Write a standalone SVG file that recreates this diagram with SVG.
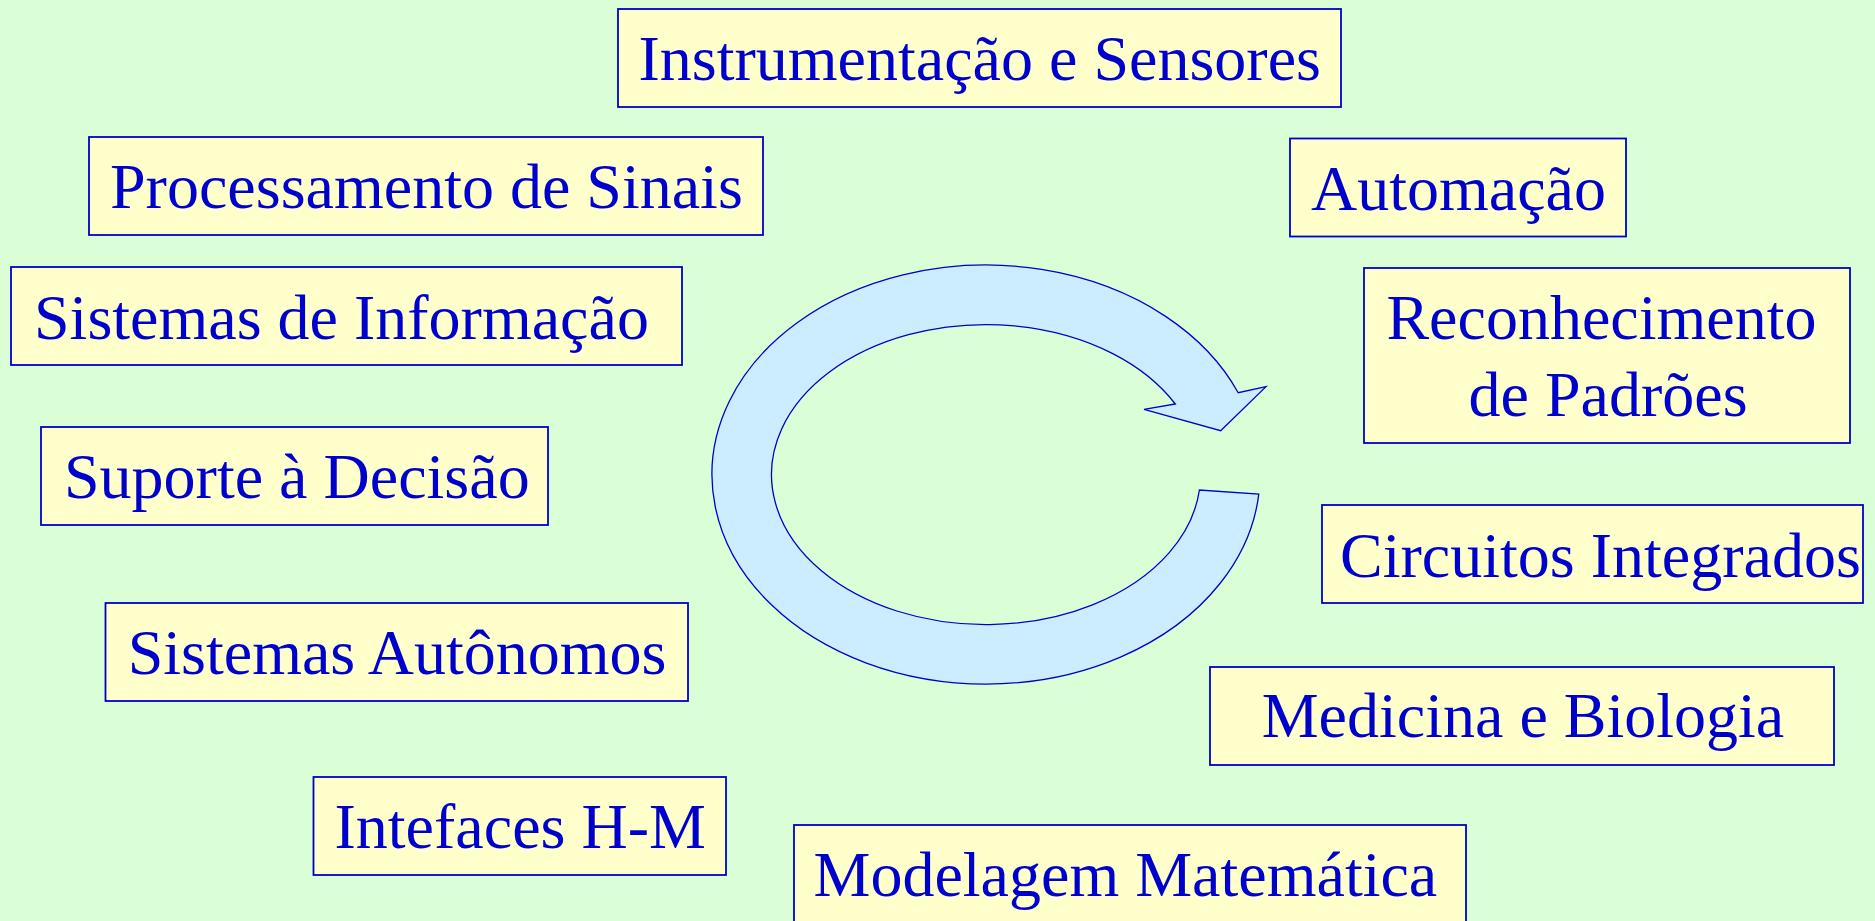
<svg xmlns="http://www.w3.org/2000/svg" width="1875" height="921" viewBox="0 0 1875 921">
<style>
.box{fill:#FFFFCC;stroke:#0000CC;stroke-width:1.8}
.t{font-family:"Liberation Serif","Times New Roman",serif;font-size:64px;fill:#0000CC}
.arrow{fill:#CCECFF;stroke:#0000CC;stroke-width:1.3;stroke-linejoin:miter}
</style>
<rect x="0" y="0" width="1875" height="921" fill="#DAFFD6"/>
<g id="connectors">
<path class="arrow" d="M 1258.8 494 A 274 209.5 0 1 1 1238.2 392.7 L 1266 386.7 L 1220.7 430.7 L 1144 409.3 L 1175.3 404 A 214.5 150 0 1 0 1199.4 490 Z"/>
</g>
<g id="n-instrumentacao"><rect class="box" x="618" y="9" width="723" height="98"/><text class="t" x="638.5" y="80">Instrumentação e Sensores</text></g>
<g id="n-processamento"><rect class="box" x="89" y="137" width="674" height="98"/><text class="t" x="110" y="208">Processamento de Sinais</text></g>
<g id="n-automacao"><rect class="box" x="1290" y="138.5" width="336" height="98"/><text class="t" x="1311" y="210">Automação</text></g>
<g id="n-sistemas-informacao"><rect class="box" x="11" y="267" width="671" height="98"/><text class="t" x="34" y="339">Sistemas de Informação</text></g>
<g id="n-reconhecimento"><rect class="box" x="1364" y="268" width="486" height="175"/><text class="t" x="1386.4" y="339">Reconhecimento</text><text class="t" x="1468.6" y="416">de Padrões</text></g>
<g id="n-suporte"><rect class="box" x="41" y="427" width="507" height="98"/><text class="t" x="64" y="498">Suporte à Decisão</text></g>
<g id="n-circuitos"><rect class="box" x="1322" y="505" width="541" height="98"/><text class="t" x="1340" y="577">Circuitos Integrados</text></g>
<g id="n-sistemas-autonomos"><rect class="box" x="105.5" y="603" width="582.5" height="98"/><text class="t" x="127.7" y="674">Sistemas Autônomos</text></g>
<g id="n-medicina"><rect class="box" x="1210" y="667" width="624" height="98"/><text class="t" x="1261.7" y="737">Medicina e Biologia</text></g>
<g id="n-intefaces"><rect class="box" x="313.5" y="777" width="412.5" height="98"/><text class="t" x="334.5" y="848">Intefaces H-M</text></g>
<g id="n-modelagem"><rect class="box" x="794" y="825" width="672" height="100"/><text class="t" x="813.5" y="896">Modelagem Matemática</text></g>
</svg>
